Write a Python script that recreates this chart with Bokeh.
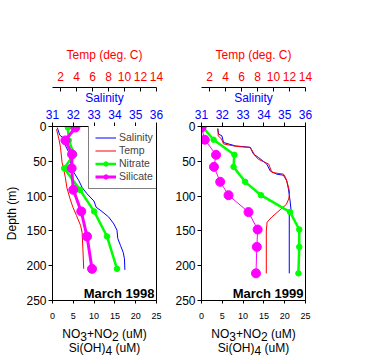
from bokeh.plotting import figure
from bokeh.models import Range1d, LinearAxis, FixedTicker, Legend, LegendItem, Label
from bokeh.layouts import row, column
from bokeh.core.properties import value
from bokeh.embed import file_html
from bokeh.resources import INLINE

FONT = "Liberation Sans"
BLUE = "#0000ff"
RED = "#ff0000"
GREEN = "#00ff00"
MAGENTA = "#ff00ff"

# ---------------- March 1998 ----------------
sal98_depth = [1.5, 12.5, 16, 28, 37, 52, 66, 78, 88, 97, 107, 116, 121, 130, 140, 149, 161, 171, 181, 190, 206]
sal98 = [31.23, 31.35, 31.51, 31.63, 31.78, 31.87, 32.03, 32.27, 32.43, 32.67, 32.99, 33.10, 33.33, 33.70, 33.95, 34.10, 34.14, 34.27, 34.40, 34.46, 34.48]
temp98_depth = [3.8, 18, 30, 52, 61.5, 73, 88, 104, 116, 128, 142, 152, 176, 204.5]
temp98 = [1.5, 1.8, 2.0, 2.2, 2.4, 2.6, 2.8, 3.2, 3.55, 4.0, 4.5, 4.7, 4.8, 4.9]
nut98_depth = [1.5, 20, 40, 60, 91, 122, 158, 204.5]
nitrate98 = [3.7, 3.9, 5.2, 2.8, 6.6, 10.0, 13.1, 15.5]
silicate98 = [5.5, 3.1, 4.7, 4.6, 5.0, 6.9, 8.3, 9.5]

# ---------------- March 1999 ----------------
sal99_depth = [3, 11, 13.4, 23, 27.8, 30, 39.7, 44.5, 54, 63.7, 68.5, 70, 78, 90, 107, 119, 124, 211]
sal99 = [31.78, 31.82, 31.98, 32.06, 32.62, 33.34, 33.5, 33.74, 34.14, 34.3, 34.62, 34.94, 35.1, 35.18, 35.26, 35.3, 35.22, 35.22]
temp99_depth = [3, 13.4, 18, 25, 28.7, 30, 42, 47, 54, 66, 68.5, 73, 88, 94, 97, 104, 112, 119, 130, 137.5, 150, 211]
temp99 = [3.04, 3.1, 3.5, 3.75, 5.4, 7.1, 7.7, 8.1, 9.4, 9.8, 11.25, 11.5, 11.9, 12.0, 12.0, 11.9, 11.6, 10.9, 9.8, 9.2, 9.1, 9.1]
nut99_depth = [1.4, 19, 40.7, 58, 79.5, 98.7, 123, 148, 173, 211]
nitrate99 = [0.4, 2.9, 7.9, 7.7, 10.5, 14.3, 21.3, 23.5, 23.5, 23.3]
silicate99 = [0.0, 0.8, 3.5, 3.0, 4.5, 6.5, 11.3, 13.5, 13.3, 13.1]

sal_ticks = [31, 32, 33, 34, 35, 36]
temp_ticks = [2, 4, 6, 8, 10, 12, 14]
nut_ticks = [0, 5, 10, 15, 20, 25]
depth_ticks = [0, 50, 100, 150, 200, 250]

# bottom axis title, split into (text, is_subscript) pieces
title_line1 = [("NO", False), ("3", True), ("+NO", False), ("2", True), (" (uM)", False)]
title_line2 = [("Si(OH)", False), ("4", True), (" (uM)", False)]

# layout geometry (pixels)
FW, FH = 104, 174
L1, R1, L2, R2 = 52, 10, 35, 10
TOP, BOT = 126, 23
P3H = 34

# Arial-like advance widths (em) for title layout
W = {"N": 0.722, "O": 0.778, "+": 0.584, " ": 0.278, "(": 0.333, ")": 0.333,
     "u": 0.556, "M": 0.833, "S": 0.667, "i": 0.222, "H": 0.722}
for d in "0123456789":
    W[d] = 0.556


def tw(s, size):
    return sum(W.get(c, 0.556) for c in s) * size


def style_axis(ax, color, size):
    ax.axis_line_color = "black"
    ax.major_tick_line_color = "black"
    ax.minor_tick_line_color = None
    ax.major_label_text_color = color
    ax.major_label_text_font = FONT
    ax.major_label_text_font_size = size
    ax.axis_label_text_font = FONT
    ax.axis_label_text_font_style = "normal"
    ax.axis_label_text_color = color
    ax.axis_label_text_font_size = "12px"


def panel(sal_d, sal, tmp_d, tmp, nut_d, nit, sil, title, first, si_width):
    p = figure(frame_width=FW, frame_height=FH,
               x_range=Range1d(0, 25), y_range=Range1d(250, 0),
               output_backend="svg", toolbar_location=None,
               min_border_top=TOP, min_border_bottom=BOT,
               min_border_left=L1 if first else L2, min_border_right=R1 if first else R2)
    p.grid.visible = False
    p.outline_line_color = "black"
    p.outline_line_width = 1
    p.background_fill_color = "white"
    p.border_fill_color = "white"
    p.extra_x_ranges = {"sal": Range1d(31, 36), "temp": Range1d(1, 14)}

    xa = p.xaxis[0]
    xa.ticker = FixedTicker(ticks=nut_ticks)
    style_axis(xa, "black", "9px")
    xa.major_tick_out = 3
    xa.major_tick_in = 0
    xa.major_label_standoff = 9

    ya = p.yaxis[0]
    ya.ticker = FixedTicker(ticks=depth_ticks)
    style_axis(ya, "black", "12px")
    ya.major_tick_out = 4
    ya.major_tick_in = 0
    ya.major_label_standoff = 2
    if first:
        ya.axis_label = "Depth (m)"
        ya.axis_label_standoff = 4

    sax = LinearAxis(x_range_name="sal", ticker=FixedTicker(ticks=sal_ticks), axis_label="Salinity")
    style_axis(sax, BLUE, "12px")
    sax.major_tick_out = 4
    sax.major_tick_in = 0
    sax.major_label_standoff = 4
    sax.axis_label_standoff = 2
    p.add_layout(sax, "above")

    tax = LinearAxis(x_range_name="temp", ticker=FixedTicker(ticks=temp_ticks), axis_label="Temp (deg. C)")
    style_axis(tax, RED, "12px")
    tax.major_tick_out = 0
    tax.major_tick_in = 4
    tax.major_label_standoff = 7
    tax.axis_label_standoff = 7
    p.add_layout(tax, "above")

    r_sal = p.line(sal, sal_d, x_range_name="sal", line_color=BLUE, line_width=1)
    r_tmp = p.line(tmp, tmp_d, x_range_name="temp", line_color=RED, line_width=1)
    r_nl = p.line(nit, nut_d, line_color=GREEN, line_width=2.5)
    r_np = p.scatter(nit, nut_d, marker="circle", size=5.5, fill_color=GREEN, line_color=GREEN)
    r_sl = p.line(sil, nut_d, line_color=MAGENTA, line_width=si_width)
    r_sp = p.scatter(sil, nut_d, marker="circle", size=9, fill_color=MAGENTA, line_color=MAGENTA)

    p.add_layout(Label(x=25, y=240, x_offset=-2, text=title, text_align="right",
                       text_baseline="alphabetic", text_font=FONT, text_font_size="13px",
                       text_font_style="bold", text_color="black"))
    return p, (r_sal, r_tmp, r_nl, r_np, r_sl, r_sp)


p1, rs = panel(sal98_depth, sal98, temp98_depth, temp98, nut98_depth, nitrate98, silicate98,
               "March 1998", True, 3)
p2, _ = panel(sal99_depth, sal99, temp99_depth, temp99, nut99_depth, nitrate99, silicate99,
              "March 1999", False, 1)

r_sal, r_tmp, r_nl, r_np, r_sl, r_sp = rs
legend = Legend(items=[
    LegendItem(label="Salinity", renderers=[r_sal]),
    LegendItem(label="Temp", renderers=[r_tmp]),
    LegendItem(label="Nitrate", renderers=[r_nl, r_np]),
    LegendItem(label="Silicate", renderers=[r_sl, r_sp]),
], location=(36, 111))
legend.label_text_font = FONT
legend.label_text_font_size = "10.5px"
legend.glyph_width = 21
legend.glyph_height = 11
legend.label_height = 11
legend.label_standoff = 3
legend.padding = 6
legend.spacing = 1
legend.margin = 0
legend.border_line_color = "black"
legend.border_line_width = 1
legend.background_fill_alpha = 1
p1.add_layout(legend)

# strip below both panels carrying the two-line x-axis title with subscripts
total_w = L1 + FW + R1 + L2 + FW + R2
p3 = figure(width=total_w, height=P3H, x_range=Range1d(0, total_w), y_range=Range1d(P3H, 0),
            output_backend="svg", toolbar_location=None,
            min_border=0, min_border_left=0, min_border_right=0, min_border_top=0, min_border_bottom=0)
p3.axis.visible = False
p3.grid.visible = False
p3.outline_line_color = None
p3.background_fill_color = "white"
p3.border_fill_color = "white"

fs = 12
xs, ys, ts = [], [], []
centers = [L1 + FW / 2, L1 + FW + R1 + L2 + FW / 2]
for cx in centers:
    for base, parts in ((10, title_line1), (24, title_line2)):
        total = sum(tw(t, fs) for t, _ in parts)
        x0 = cx - total / 2
        for t, sub in parts:
            stripped = t.lstrip(" ")
            lead = tw(t[: len(t) - len(stripped)], fs)
            xs.append(x0 + lead)
            ys.append(base + (3 if sub else 0))
            ts.append(stripped)
            x0 += tw(t, fs)
p3.text(x=xs, y=ys, text=ts, text_font=value(FONT), text_font_size=value("12px"),
        text_baseline="alphabetic", text_align="left", text_color="black")

layout = column(row(p1, p2), p3)
open("out.html", "w").write(file_html(layout, INLINE))
